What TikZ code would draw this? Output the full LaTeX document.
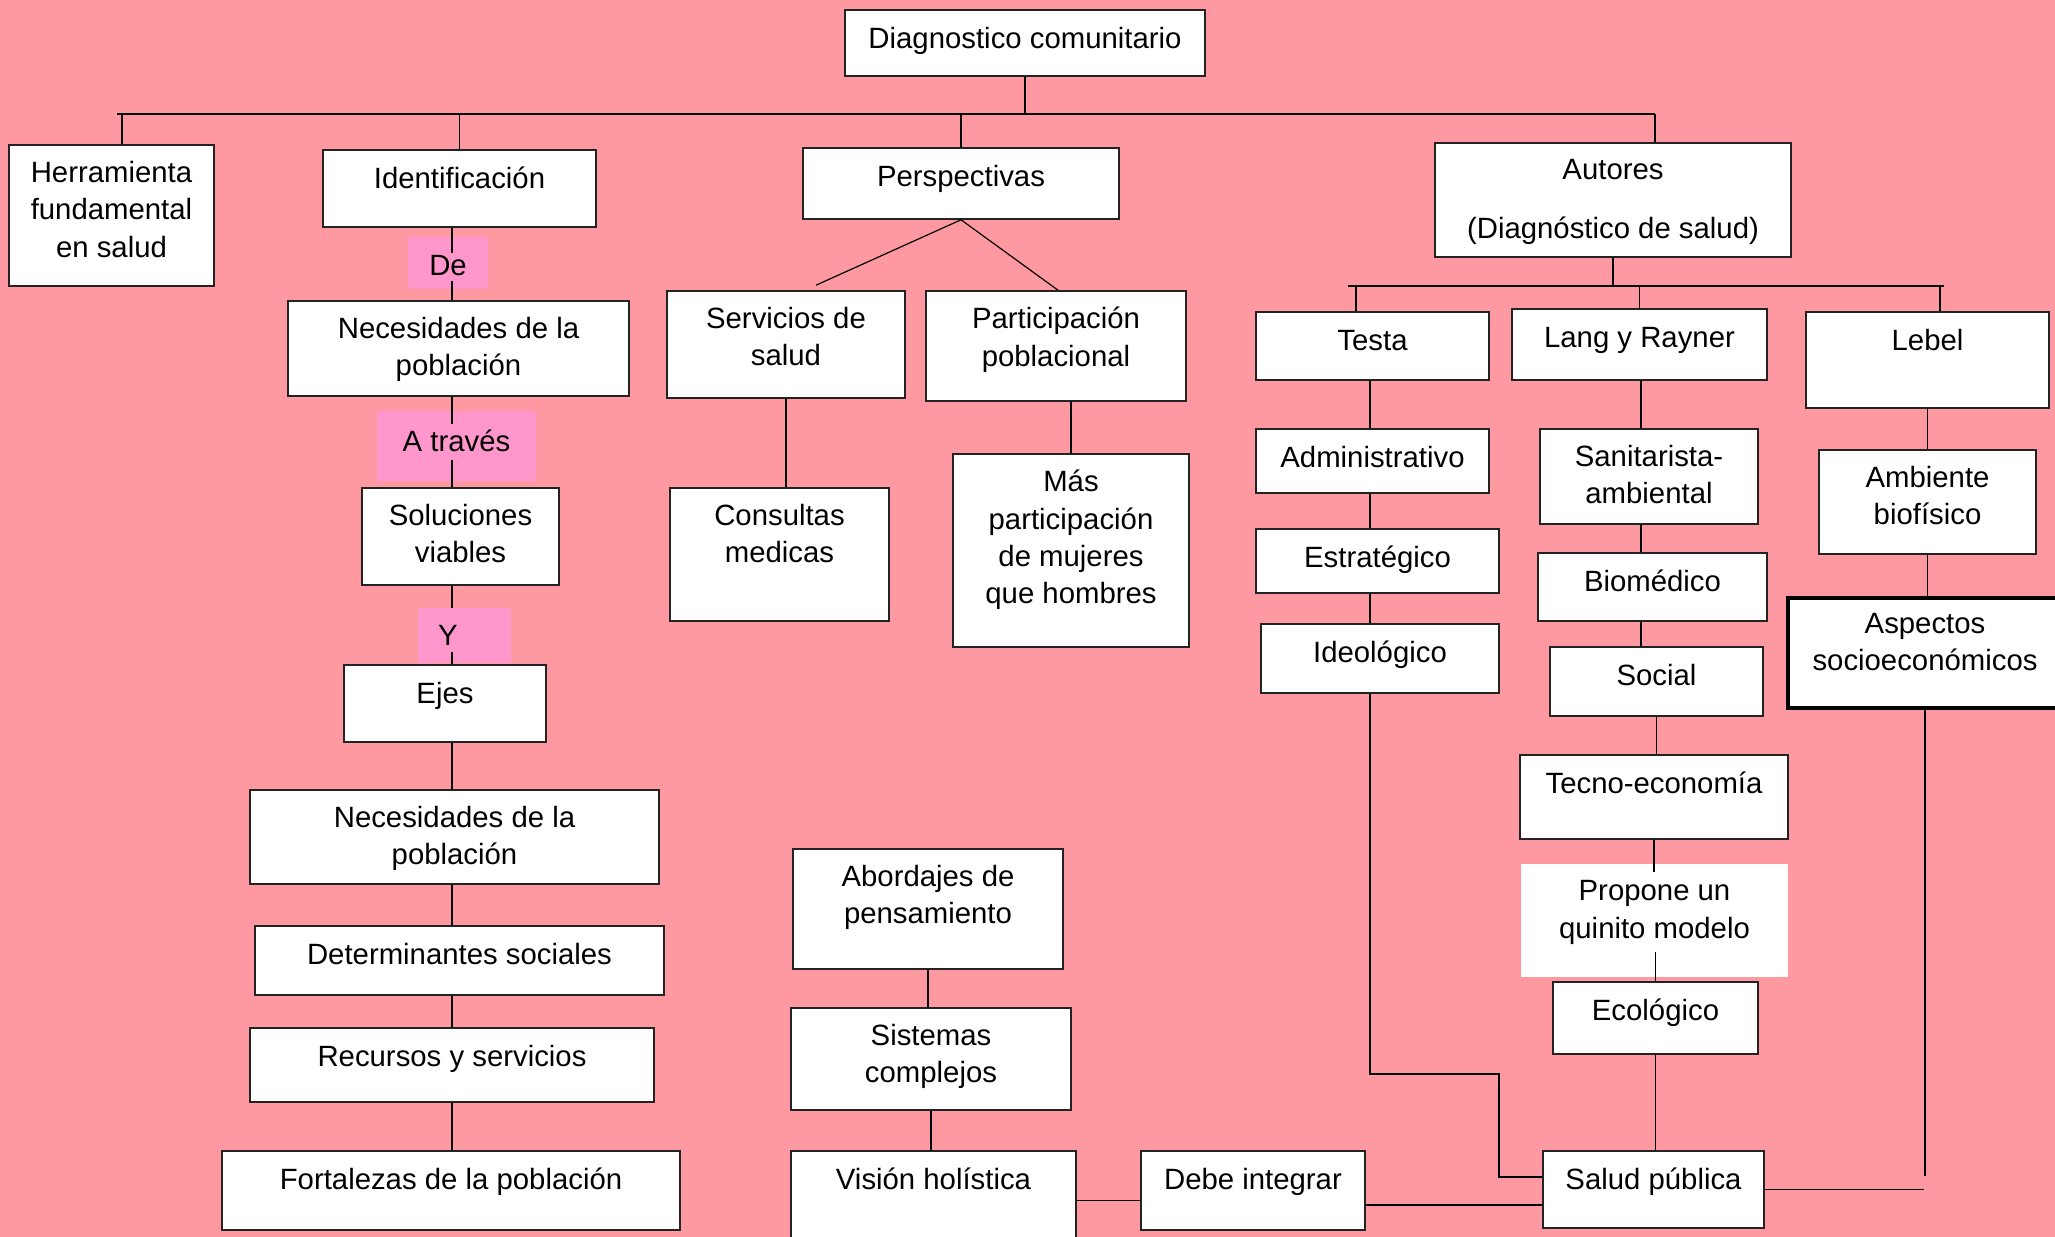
\documentclass[tikz,border=0pt]{standalone}
\usepackage{fontspec}
\setmainfont{Liberation Sans}
\usetikzlibrary{fit,calc}

\tikzset{
  box/.style={draw={rgb, 255:red, 35; green, 35; blue, 35}, line width=1.2pt, fill=white, inner sep=0pt},
  thickbox/.style={box, draw=black, line width=2.4pt},
  plainbox/.style={fill=white, inner sep=0pt},
  hl/.style={fill={rgb, 255:red, 255; green, 150; blue, 204}, inner sep=0pt},
  hltxt/.style={font=\fontsize{22}{28}\selectfont},
  txt/.style={anchor=north, inner xsep=0pt, inner ysep=12.6pt, align=center, execute at begin node={\rule{0pt}{17pt}}, font=\fontsize{22}{28}\selectfont},
  conn/.style={line width=0.9pt},
  bus/.style={line width=1.5pt}
}

\begin{document}
\begin{tikzpicture}[x=0.75pt,y=0.75pt,yscale=-1,xscale=1]
\useasboundingbox (0,0) rectangle (2055,1237);
\clip (0,0) rectangle (2055,1237);
%Background
\fill [fill={rgb, 255:red, 255; green, 153; blue, 161 }] (0,0) rectangle (2055,1237);

%Shape: Rectangle -- top
\node[box, fit={(845,10) (1205,76)}, label={[txt]north:Diagnostico comunitario}] (diag) {};
\node[box, fit={(9,145) (214,286)}, label={[txt]north:{Herramienta\\fundamental\\en salud}}] (herr) {};
\node[box, fit={(323,150) (596,227)}, label={[txt]north:Identificación}] (ident) {};
\node[box, fit={(803,148) (1119,219)}, label={[txt]north:Perspectivas}] (persp) {};
\node[box, fit={(1435,143) (1791,257)}, label={[txt]north:{Autores\\[16pt](Diagnóstico de salud)}}] (autores) {};

%Shape: Rectangle -- left column
\node[hl, fit={(408,237) (488,289)}, label={[hltxt, yshift=-2pt]center:De}] (de) {};
\node[box, fit={(288,301) (629,396)}, label={[txt]north:{Necesidades de la\\población}}] (nec1) {};
\node[hl, fit={(377,411) (536,481)}, label={[hltxt, yshift=4pt]center:A través}] (atraves) {};
\node[box, fit={(362,488) (559,585)}, label={[txt]north:{Soluciones\\viables}}] (soluc) {};
\node[hl, fit={(418,608) (511,663)}, label={[hltxt, xshift=-12.5pt]center:Y}] (yhl) {};
\node[box, fit={(344,665) (546,742)}, label={[txt]north:Ejes}] (ejes) {};
\node[box, fit={(250,790) (659,884)}, label={[txt]north:{Necesidades de la\\población}}] (nec2) {};
\node[box, fit={(255,926) (664,995)}, label={[txt]north:Determinantes sociales}] (determ) {};
\node[box, fit={(250,1028) (654,1102)}, label={[txt]north:Recursos y servicios}] (recur) {};
\node[box, fit={(222,1151) (680,1230)}, label={[txt]north:Fortalezas de la población}] (fort) {};

%Shape: Rectangle -- middle
\node[box, fit={(667,291) (905,398)}, label={[txt]north:{Servicios de\\salud}}] (serv) {};
\node[box, fit={(926,291) (1186,401)}, label={[txt]north:{Participación\\poblacional}}] (part) {};
\node[box, fit={(670,488) (889,621)}, label={[txt]north:{Consultas\\medicas}}] (consult) {};
\node[box, fit={(953,454) (1189,647)}, label={[txt]north:{Más\\participación\\de mujeres\\que hombres}}] (mas) {};
\node[box, fit={(793,849) (1063,969)}, label={[txt]north:{Abordajes de\\pensamiento}}] (abord) {};
\node[box, fit={(791,1008) (1071,1110)}, label={[txt]north:{Sistemas\\complejos}}] (sist) {};
\node[box, fit={(791,1151) (1076,1250)}, label={[txt]north:Visión holística}] (vision) {};
\node[box, fit={(1141,1151) (1365,1230)}, label={[txt]north:Debe integrar}] (debe) {};

%Shape: Rectangle -- autores
\node[box, fit={(1256,312) (1489,380)}, label={[txt]north:Testa}] (testa) {};
\node[box, fit={(1512,309) (1767,380)}, label={[txt]north:Lang y Rayner}] (lang) {};
\node[box, fit={(1806,312) (2049,408)}, label={[txt]north:Lebel}] (lebel) {};
\node[box, fit={(1256,429) (1489,493)}, label={[txt]north:Administrativo}] (admin) {};
\node[box, fit={(1256,529) (1499,593)}, label={[txt]north:Estratégico}] (estr) {};
\node[box, fit={(1261,624) (1499,693)}, label={[txt]north:Ideológico}] (ideo) {};
\node[box, fit={(1540,429) (1758,524)}, label={[txt]north:{Sanitarista-\\ambiental}}] (sanit) {};
\node[box, fit={(1538,553) (1767,621)}, label={[txt]north:Biomédico}] (biom) {};
\node[box, fit={(1550,647) (1763,716)}, label={[txt]north:Social}] (social) {};
\node[box, fit={(1520,755) (1788,839)}, label={[txt]north:Tecno-economía}] (tecno) {};
\node[plainbox, fit={(1521,864) (1788,977)}, label={[txt]north:{Propone un\\quinito modelo}}] (propone) {};
\node[box, fit={(1553,982) (1758,1054)}, label={[txt]north:Ecológico}] (ecol) {};
\node[box, fit={(1543,1151) (1764,1228)}, label={[txt]north:Salud pública}] (salud) {};
\node[box, fit={(1819,450) (2036,554)}, label={[txt]north:{Ambiente\\biofísico}}] (ambiente) {};
\node[thickbox, fit={(1788,598) (2062,708)}, label={[txt]north:{Aspectos\\socioeconómicos}}] (aspectos) {};

%Coordinates
\coordinate (bus1L) at (117,114);
\coordinate (bus1R) at (1655,114);
\coordinate (herrDrop) at (122,114);
\coordinate (bus2L) at (1348,286);
\coordinate (bus2R) at (1944,286);
\coordinate (testaDrop) at (1356,286);
\coordinate (lebelDrop) at (1940,286);
\coordinate (lx) at (452,0);
\coordinate (tx) at (1370,0);
\coordinate (rx) at (1641,0);
\coordinate (turnA) at (1499,1074);
\coordinate (turnB) at (1499,1177);
\coordinate (aspEnd) at (1924,1176);
\coordinate (dsY) at (0,1205);

%Straight Lines -- top level
\draw[conn] (diag.south) -- (diag.south |- bus1L);
\draw[bus] (bus1L) -- (bus1R);
\draw[conn] (herrDrop) -- (herrDrop |- herr.north);
\draw[conn] (ident.north |- bus1L) -- (ident.north);
\draw[conn] (persp.north |- bus1L) -- (persp.north);
\draw[conn] (bus1R) -- (bus1R |- autores.north);

%Straight Lines -- left column
\draw[conn] (lx |- ident.south) -- ($(lx |- de.north)+(0,16)$);
\draw[conn] ($(lx |- de.south)+(0,-8)$) -- (lx |- nec1.north);
\draw[conn] (lx |- nec1.south) -- ($(lx |- atraves.north)+(0,13)$);
\draw[conn] ($(lx |- atraves.south)+(0,-21)$) -- (lx |- soluc.north);
\draw[conn] (lx |- soluc.south) -- (lx |- yhl.north);
\draw[conn] ($(lx |- yhl.south)+(0,-11)$) -- (lx |- ejes.north);
\draw[conn] (lx |- ejes.south) -- (lx |- nec2.north);
\draw[conn] (lx |- nec2.south) -- (lx |- determ.north);
\draw[conn] (lx |- determ.south) -- (lx |- recur.north);
\draw[conn] (lx |- recur.south) -- (lx |- fort.north);

%Straight Lines -- perspectivas
\draw[conn] (persp.south) -- ($(serv.north)+(30,-5)$);
\draw[conn] (persp.south) -- ($(part.north)+(2,0)$);
\draw[conn] (serv.south) -- (serv.south |- consult.north);
\draw[conn] (mas.north |- part.south) -- (mas.north);

%Straight Lines -- abordajes
\draw[conn] (abord.south) -- (abord.south |- sist.north);
\draw[conn] (sist.south) -- (sist.south |- vision.north);
\draw[conn] (vision.east) -- (vision.east -| debe.west);
\draw[conn] (debe.east |- dsY) -- (salud.west |- dsY);

%Straight Lines -- autores
\draw[conn] (autores.south) -- (autores.south |- bus2L);
\draw[bus] (bus2L) -- (bus2R);
\draw[conn] (testaDrop) -- (testaDrop |- testa.north);
\draw[conn] (lang.north |- bus2L) -- (lang.north);
\draw[conn] (lebelDrop) -- (lebelDrop |- lebel.north);

%Straight Lines -- Testa
\draw[conn] (tx |- testa.south) -- (tx |- admin.north);
\draw[conn] (tx |- admin.south) -- (tx |- estr.north);
\draw[conn] (tx |- estr.south) -- (tx |- ideo.north);
\draw[conn] (tx |- ideo.south) -- (tx |- turnA) -- (turnA) -- (turnB) -- (turnB -| salud.west);

%Straight Lines -- Lang y Rayner
\draw[conn] (rx |- lang.south) -- (rx |- sanit.north);
\draw[conn] (rx |- sanit.south) -- (rx |- biom.north);
\draw[conn] (rx |- biom.south) -- (rx |- social.north);
\draw[conn] (social.south) -- (social.south |- tecno.north);
\draw[conn] (tecno.south) -- ($(tecno.south |- propone.north)+(0,8)$);
\draw[conn] ($(ecol.north |- propone.south)+(0,-25)$) -- (ecol.north);
\draw[conn] (ecol.south) -- (ecol.south |- salud.north);

%Straight Lines -- Lebel
\draw[conn] (lebel.south) -- (lebel.south |- ambiente.north);
\draw[conn] (ambiente.south) -- (ambiente.south |- aspectos.north);
\draw[conn] (aspectos.south) -- (aspectos.south |- aspEnd);
\draw[conn] (salud.east) -- (salud.east -| aspEnd);

\end{tikzpicture}
\end{document}
